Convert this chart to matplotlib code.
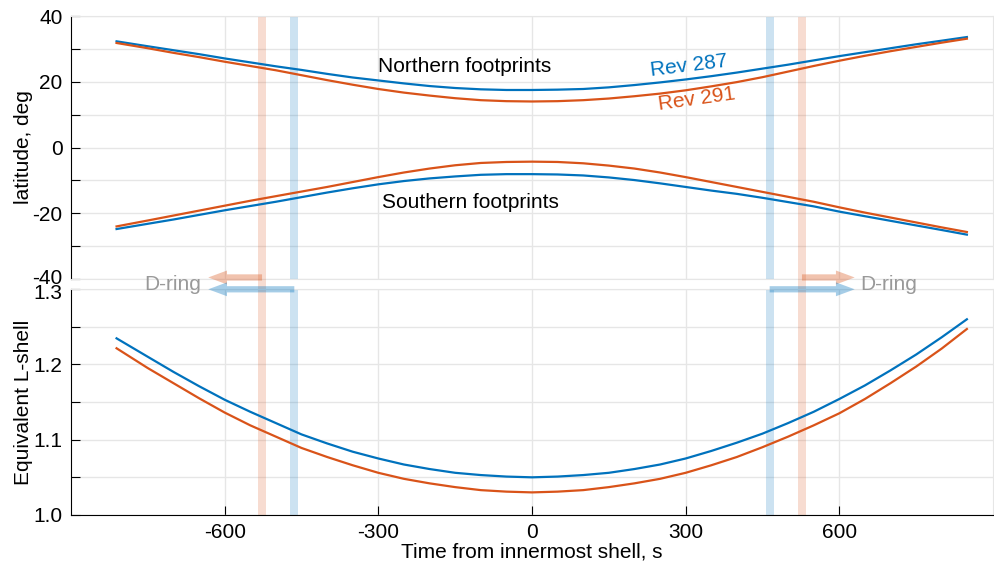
import numpy as np
import matplotlib.pyplot as plt
from matplotlib.transforms import ScaledTranslation

plt.rcParams['font.family'] = ['Liberation Sans', 'DejaVu Sans']
plt.rcParams['axes.unicode_minus'] = False

BLUE = '#0072BD'
ORANGE = '#D95319'
GRID = '#e6e6e6'
FS = 15

# time from innermost shell, s
t = [-811, -750, -700, -650, -600, -550, -500, -450, -400, -350, -300,
     -250, -200, -150, -100, -50, 0, 50, 100, 150, 200, 250, 300, 350,
     400, 450, 500, 550, 600, 650, 700, 750, 800, 849]

# magnetic footprint latitudes, deg
north_287 = [32.3, 30.8, 29.6, 28.4, 27.1, 25.9, 24.7, 23.6, 22.4, 21.3, 20.4,
             19.5, 18.7, 18.1, 17.7, 17.5, 17.5, 17.6, 17.8, 18.3, 19.0, 19.8,
             20.7, 21.7, 22.8, 24.0, 25.2, 26.5, 27.8, 29.0, 30.2, 31.4, 32.5,
             33.6]
north_291 = [31.8, 30.2, 28.8, 27.5, 26.1, 24.8, 23.5, 22.0, 20.5, 19.1, 17.8,
             16.7, 15.8, 15.0, 14.4, 14.1, 14.0, 14.1, 14.4, 14.9, 15.6, 16.4,
             17.4, 18.6, 19.9, 21.4, 23.1, 24.8, 26.4, 27.9, 29.3, 30.6, 31.9,
             33.1]
south_287 = [-24.8, -23.2, -21.9, -20.5, -19.1, -17.8, -16.5, -15.1, -13.7,
             -12.4, -11.2, -10.2, -9.4, -8.8, -8.3, -8.1, -8.1, -8.2, -8.5,
             -9.1, -9.9, -10.9, -12.0, -13.1, -14.1, -15.3, -16.6, -17.9,
             -19.5, -20.9, -22.3, -23.7, -25.1, -26.5]
south_291 = [-24.0, -22.2, -20.7, -19.2, -17.7, -16.2, -14.8, -13.4, -12.0,
             -10.5, -9.0, -7.6, -6.4, -5.4, -4.7, -4.4, -4.3, -4.4, -4.8,
             -5.5, -6.4, -7.6, -9.0, -10.5, -12.0, -13.5, -15.0, -16.5,
             -18.2, -19.8, -21.3, -22.8, -24.3, -25.7]

# equivalent L-shell
lshell_287 = [1.2345, 1.210, 1.190, 1.171, 1.153, 1.137, 1.122, 1.107, 1.095,
              1.084, 1.075, 1.067, 1.061, 1.056, 1.053, 1.051, 1.050, 1.051,
              1.053, 1.056, 1.061, 1.067, 1.075, 1.085, 1.096, 1.108, 1.122,
              1.137, 1.154, 1.172, 1.192, 1.213, 1.236, 1.2598]
lshell_291 = [1.2213, 1.195, 1.175, 1.155, 1.136, 1.119, 1.104, 1.089, 1.077,
              1.066, 1.056, 1.048, 1.042, 1.037, 1.033, 1.031, 1.030, 1.031,
              1.033, 1.037, 1.042, 1.048, 1.056, 1.066, 1.077, 1.090, 1.104,
              1.119, 1.135, 1.154, 1.175, 1.197, 1.221, 1.2469]

# D-ring crossing times
dring_287 = [-464, 464]
dring_291 = [-527, 527]

fig = plt.figure(figsize=(9.94, 5.64), dpi=100)
ax1 = fig.add_axes([0.0714, 0.5053, 0.9276, 0.4663])
ax2 = fig.add_axes([0.0714, 0.0869, 0.9276, 0.4007])

for ax in (ax1, ax2):
    ax.set_xlim(-900, 900)
    ax.set_xticks([-600, -300, 0, 300, 600])
    ax.grid(True, color=GRID, lw=1.0)
    ax.set_axisbelow(True)
    ax.tick_params(direction='in', length=6.5, width=0.8, labelsize=FS, pad=6)
    for s in ('top', 'right'):
        ax.spines[s].set_color(GRID)
    ax.spines['left'].set_linewidth(0.8)
    ax.spines['bottom'].set_linewidth(0.8)

ax1.spines['bottom'].set_color(GRID)
ax1.tick_params(axis='x', length=0, labelbottom=False)
ax1.set_ylim(-40, 40)
ax1.set_yticks(np.arange(-40, 41, 10))
ax1.set_yticklabels([str(v) if v % 20 == 0 else '' for v in range(-40, 41, 10)])

ax2.set_ylim(1.0, 1.3)
ax2.set_yticks(np.arange(1.0, 1.301, 0.05))
ax2.set_yticklabels([f'{v:.1f}' if i % 2 == 0 else '' for i, v in
                     enumerate(np.arange(1.0, 1.301, 0.05))])

# nudge the two labels that meet at the panel join apart
lo = ax1.get_yticklabels()[0]
lo.set_transform(lo.get_transform() + ScaledTranslation(0, 3 / 100, fig.dpi_scale_trans))
hi = ax2.get_yticklabels()[-1]
hi.set_transform(hi.get_transform() + ScaledTranslation(0, -3 / 100, fig.dpi_scale_trans))

# D-ring bands
for x in dring_287:
    ax1.axvspan(x - 8, x + 8, color=BLUE, alpha=0.2, lw=0)
    ax2.axvspan(x - 8, x + 8, color=BLUE, alpha=0.2, lw=0)
for x in dring_291:
    ax1.axvspan(x - 8, x + 8, color=ORANGE, alpha=0.2, lw=0)
    ax2.axvspan(x - 8, x + 8, color=ORANGE, alpha=0.2, lw=0)
    ax2.fill_between([x - 8, x + 8], 1.3, 1.3133, color=ORANGE, alpha=0.2,
                     lw=0, clip_on=False)

ax1.plot(t, north_287, color=BLUE, lw=1.6)
ax1.plot(t, north_291, color=ORANGE, lw=1.6)
ax1.plot(t, south_287, color=BLUE, lw=1.6)
ax1.plot(t, south_291, color=ORANGE, lw=1.6)

ax2.plot(t, lshell_287, color=BLUE, lw=1.6)
ax2.plot(t, lshell_291, color=ORANGE, lw=1.6)

ax1.text(-300, 24.6, 'Northern footprints', fontsize=FS, ha='left', va='center')
ax1.text(-293, -16.6, 'Southern footprints', fontsize=FS, ha='left', va='center')
ax1.text(306, 24.8, 'Rev 287', fontsize=FS, color=BLUE, ha='center',
         va='center', rotation=7)
ax1.text(321, 14.8, 'Rev 291', fontsize=FS, color=ORANGE, ha='center',
         va='center', rotation=8)

# arrows pointing out towards the D-ring
arrow = 'simple,head_length=1.35,head_width=1.0,tail_width=0.45'
for x0, tip, y, c in [(dring_291[0], -632, 1.3153, ORANGE),
                      (dring_287[0], -632, 1.2996, BLUE),
                      (dring_291[1], 630, 1.3153, ORANGE),
                      (dring_287[1], 630, 1.2996, BLUE)]:
    ax2.annotate('', xy=(tip, y), xytext=(x0, y), annotation_clip=False,
                 arrowprops=dict(arrowstyle=arrow, color=c, alpha=0.35, lw=0,
                                 shrinkA=0, shrinkB=0, mutation_scale=10))
ax2.text(-702, 1.3066, 'D-ring', fontsize=FS, color='#999999', ha='center',
         va='center', clip_on=False)
ax2.text(697, 1.3066, 'D-ring', fontsize=FS, color='#999999', ha='center',
         va='center', clip_on=False)

ax1.set_ylabel('latitude, deg', fontsize=FS)
ax2.set_ylabel('Equivalent L-shell', fontsize=FS)
ax1.yaxis.set_label_coords(-0.041, 0.5)
ax2.yaxis.set_label_coords(-0.041, 0.5)
ax2.set_xlabel('Time from innermost shell, s', fontsize=FS)
ax2.xaxis.set_label_coords(0.5, -0.12)

fig.savefig('out.png', dpi=100)
